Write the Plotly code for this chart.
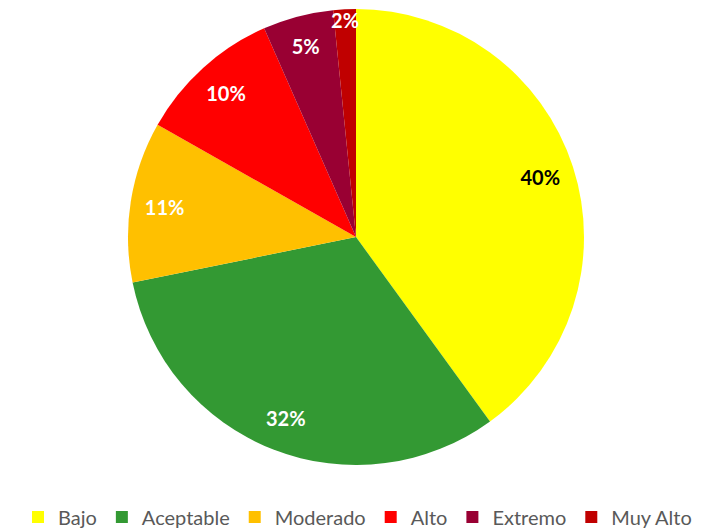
import plotly.graph_objects as go

categories = ["Bajo", "Aceptable", "Moderado", "Alto", "Extremo", "Muy Alto"]
values = [40.0, 31.8, 11.4, 10.2, 5.0, 1.6]
colors = ["#FFFF00", "#339933", "#FFC000", "#FF0000", "#990033", "#C00000"]
label_colors = ["#000000", "#FFFFFF", "#FFFFFF", "#FFFFFF", "#FFFFFF", "#FFFFFF"]

# page body has an 8px margin, so the figure is drawn 8px smaller and offset
W, H = 699, 521
cx, cy, r = 348, 229, 228
dom_x = [(cx - r) / W, (cx + r) / W]
dom_y = [1 - (cy + r) / H, 1 - (cy - r) / H]

fig = go.Figure()
fig.add_trace(go.Pie(
    labels=categories, values=values, sort=False, direction="clockwise",
    rotation=0, marker=dict(colors=colors, line=dict(width=0)),
    textinfo="none", hoverinfo="label+percent", domain=dict(x=dom_x, y=dom_y),
    showlegend=True,
))
fig.add_trace(go.Pie(
    labels=categories, values=values, sort=False, direction="clockwise",
    rotation=0, hole=0.7, marker=dict(colors=["rgba(0,0,0,0)"] * 6, line=dict(width=0)),
    texttemplate="%{percent:.0%}", textposition="inside", insidetextorientation="horizontal",
    textfont=dict(family="Lato, Open Sans, sans-serif", size=20, color=label_colors, weight="bold"),
    hoverinfo="skip", domain=dict(x=dom_x, y=dom_y), showlegend=False,
))
fig.update_layout(
    width=W, height=H, margin=dict(l=0, r=0, t=0, b=0, autoexpand=False),
    paper_bgcolor="white", plot_bgcolor="white",
    uniformtext=dict(minsize=20, mode="show"),
    legend=dict(orientation="h", x=0.5, xanchor="center", y=1 - 509 / 521, yanchor="middle",
                font=dict(family="Lato, Open Sans, sans-serif", size=20, color="#595959"),
                itemwidth=30, traceorder="normal"),
)
fig.write_html("out.html")
